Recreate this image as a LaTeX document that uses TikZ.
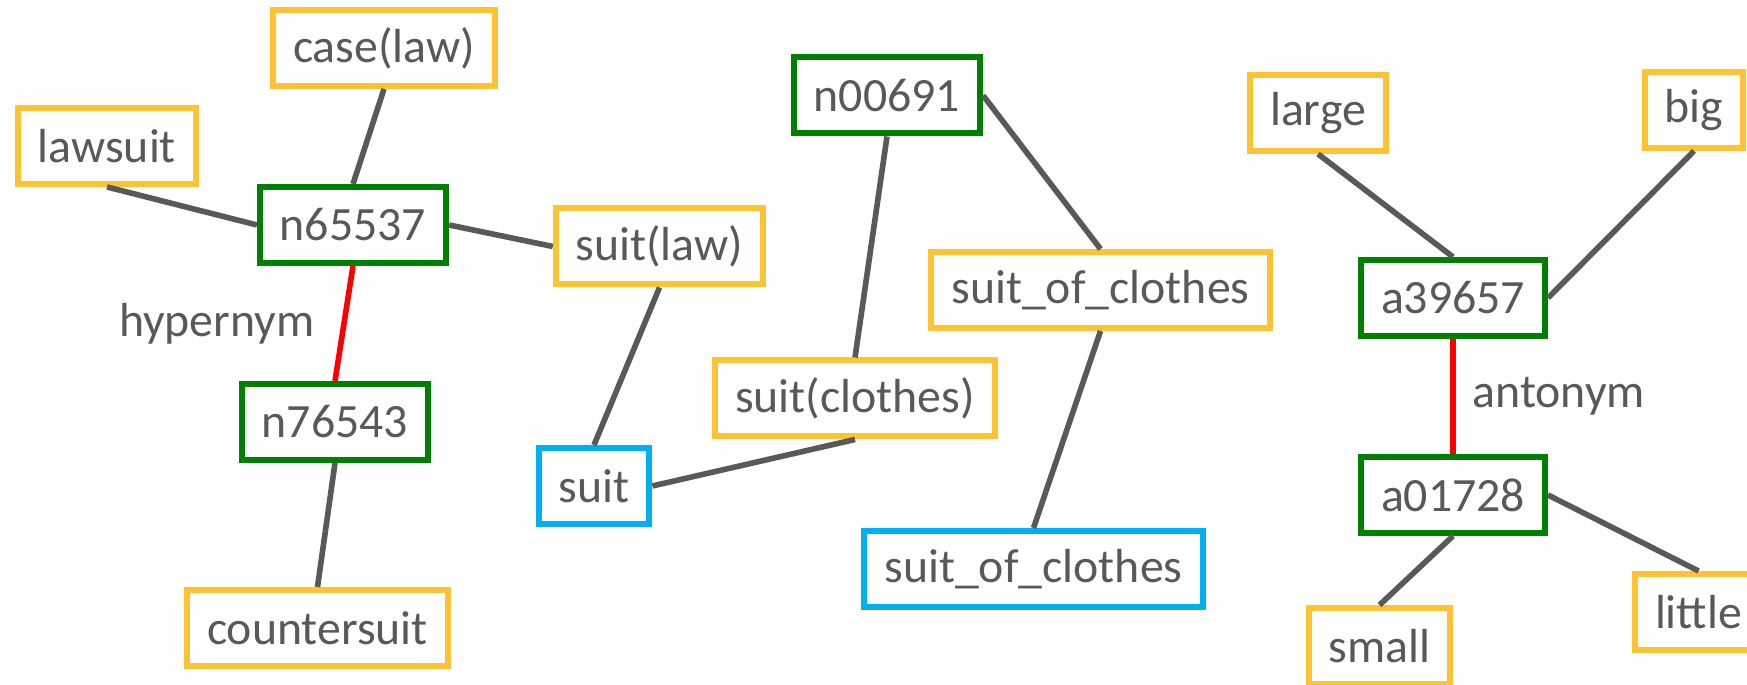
\documentclass[tikz,border=0pt]{standalone}
\usepackage{fontspec}
\setmainfont{Carlito}
\usetikzlibrary{positioning, calc}
\definecolor{lemmacolor}{RGB}{255, 194, 51}
\definecolor{synsetcolor}{RGB}{0, 128, 0}
\definecolor{wordcolor}{RGB}{0, 176, 240}
\definecolor{edgecolor}{RGB}{89, 89, 89}
\definecolor{labelgray}{RGB}{89, 89, 89}

\begin{document}
\begin{tikzpicture}[
    box/.style={
        rectangle,
        line width=1.7pt,
        fill=white,
        minimum height=0.76cm,
        inner xsep=0.2cm,
        text=labelgray,
        font=\fontsize{13.6}{16}\selectfont
    },
    synset/.style={box, draw=synsetcolor},
    lemma/.style={box, draw=lemmacolor},
    word/.style={box, draw=wordcolor},
    link/.style={
        line width=1.6pt,
        draw=edgecolor
    },
    relation/.style={
        line width=1.6pt,
        draw=red
    },
    rellabel/.style={
        text=labelgray,
        font=\fontsize{13.6}{16}\selectfont
    }
]

% Picture frame
\useasboundingbox (0,0) rectangle (17.47,6.85);
\clip (0,0) rectangle (17.47,6.85);

% Law synsets
\node[synset] (synset1) at (3.53,4.60) {n65537};
\node[synset] (synset2) at (3.35,2.63) {n76543};
\node[lemma] (lemma1) at (3.84,6.37) {case(law)};
\node[lemma] (lemma2) at (1.07,5.39) {lawsuit};
\node[lemma] (lemma3) at (6.595,4.385) {suit(law)};
\node[lemma] (lemma4) at (3.175,0.57) {countersuit};

% Clothes synset
\node[synset] (synset3) at (8.87,5.895) {n00691};
\node[lemma] (lemma5) at (8.55,2.865) {suit(clothes)};
\node[lemma] (lemma6) at (11.005,3.95) {suit\_of\_clothes};
\node[word] (word1) at (5.94,1.99) {suit};
\node[word] (word2) at (10.335,1.16) {suit\_of\_clothes};

% Adjective synsets
\node[synset] (synset4) at (14.53,3.87) {a39657};
\node[synset] (synset5) at (14.53,1.90) {a01728};
\node[lemma] (lemma7) at (13.18,5.72) {large};
\node[lemma] (lemma8) at (16.94,5.75) {big};
\node[lemma] (lemma9) at (13.795,0.39) {small};
\node[lemma] (lemma10) at (16.985,0.73) {little};

% Lemma links
\draw[link] (lemma1.south) -- (synset1.north);
\draw[link] (lemma2.south) -- (synset1.west);
\draw[link] (synset1.east) -- (lemma3.west);
\draw[link] (synset2.south) -- (lemma4.north);
\draw[link] (lemma3.south) -- (word1.north);
\draw[link] (word1.east) -- (lemma5.south);
\draw[link] (synset3.south) -- (lemma5.north);
\draw[link] (synset3.east) -- (lemma6.north);
\draw[link] (lemma6.south) -- (word2.north);
\draw[link] (lemma7.south) -- (synset4.north);
\draw[link] (lemma8.south) -- (synset4.east);
\draw[link] (synset5.south) -- (lemma9.north);
\draw[link] (synset5.east) -- (lemma10.north);

% Relations between synsets
\draw[relation] (synset1.south) -- node[rellabel, left=0.15cm] {hypernym} (synset2.north);
\draw[relation] (synset4.south) -- node[rellabel, right=0.05cm] {antonym} (synset5.north);

\end{tikzpicture}
\end{document}
